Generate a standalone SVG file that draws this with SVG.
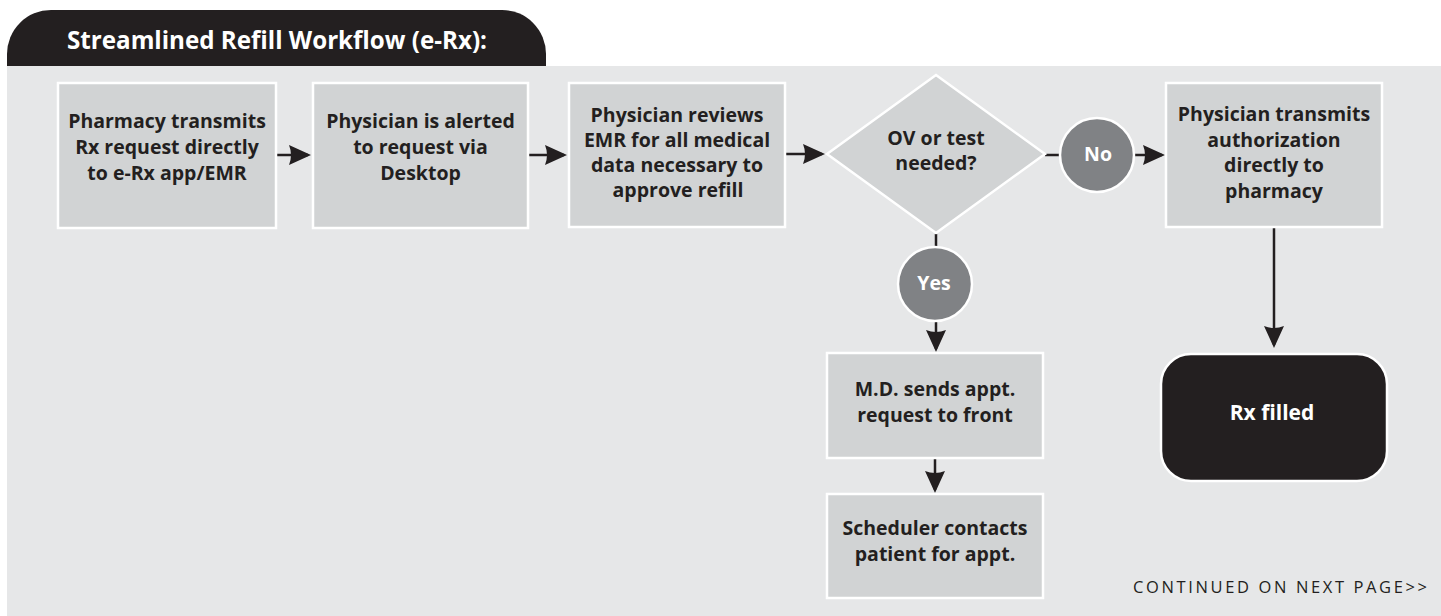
<svg xmlns="http://www.w3.org/2000/svg" width="1441" height="616" viewBox="0 0 1441 616">
<style>
.box{fill:#d1d3d4;stroke:#ffffff;stroke-width:2.5}
.circ{fill:#808285;stroke:#ffffff;stroke-width:2.5}
.t{font-family:"Open Sans","Liberation Sans",sans-serif;font-weight:bold;font-size:19.5px;fill:#231f20;text-anchor:middle}
.w{fill:#ffffff}
.ln{stroke:#231f20;stroke-width:2.5;fill:none}
</style>
<defs>
<marker id="arr" markerUnits="userSpaceOnUse" viewBox="0 0 22 20" refX="19" refY="10" markerWidth="22" markerHeight="20" orient="auto">
<path d="M0,0 L22,10 L0,20 Q4,10 0,0 Z" fill="#231f20"/>
</marker>
</defs>
<rect x="0" y="0" width="1441" height="616" fill="#ffffff"/>
<g id="header">
<path d="M7,66 L7,54 A44,44 0 0 1 51,10 L502,10 A44,44 0 0 1 546,54 L546,66 Z" fill="#231f20"/>
<rect x="7" y="66" width="1434" height="550" fill="#e6e7e8"/>
<text x="67" y="49" style="font-family:'Open Sans','Liberation Sans',sans-serif;font-weight:bold;font-size:25px;fill:#ffffff" textLength="420" lengthAdjust="spacingAndGlyphs">Streamlined Refill Workflow (e-Rx):</text>
</g>
<g id="connectors">
<line class="ln" x1="276" y1="155" x2="308" y2="155" marker-end="url(#arr)"/>
<line class="ln" x1="528" y1="155" x2="564" y2="155" marker-end="url(#arr)"/>
<line class="ln" x1="785" y1="154" x2="822" y2="154" marker-end="url(#arr)"/>
<line class="ln" x1="1045" y1="155" x2="1060" y2="155"/>
<line class="ln" x1="1135" y1="155" x2="1162" y2="155" marker-end="url(#arr)"/>
<line class="ln" x1="936" y1="234" x2="936" y2="247"/>
<line class="ln" x1="936" y1="322" x2="936" y2="349" marker-end="url(#arr)"/>
<line class="ln" x1="935" y1="459" x2="935" y2="490" marker-end="url(#arr)"/>
<line class="ln" x1="1274" y1="228" x2="1274" y2="345" marker-end="url(#arr)"/>
</g>
<g id="n1">
<rect class="box" x="58" y="83" width="218" height="145"/>
<text class="t" x="167" y="128">Pharmacy transmits</text>
<text class="t" x="167" y="154">Rx request directly</text>
<text class="t" x="167" y="180">to e-Rx app/EMR</text>
</g>
<g id="n2">
<rect class="box" x="313" y="83" width="215" height="145"/>
<text class="t" x="420.5" y="128">Physician is alerted</text>
<text class="t" x="420.5" y="154">to request via</text>
<text class="t" x="420.5" y="180">Desktop</text>
</g>
<g id="n3">
<rect class="box" x="569" y="83" width="216" height="144"/>
<text class="t" x="677" y="122">Physician reviews</text>
<text class="t" x="677" y="147">EMR for all medical</text>
<text class="t" x="677" y="172">data necessary to</text>
<text class="t" x="678" y="197">approve refill</text>
</g>
<g id="n4">
<polygon class="box" points="936,75 1045,154 936,233 827,154"/>
<text class="t" x="936" y="145">OV or test</text>
<text class="t" x="936" y="170">needed?</text>
</g>
<g id="no">
<circle class="circ" cx="1097" cy="155" r="37"/>
<text class="t w" x="1098" y="161">No</text>
</g>
<g id="yes">
<circle class="circ" cx="935" cy="284" r="37"/>
<text class="t w" x="934" y="290">Yes</text>
</g>
<g id="n5">
<rect class="box" x="1166" y="83" width="216" height="144"/>
<text class="t" x="1274" y="121">Physician transmits</text>
<text class="t" x="1274" y="146.5">authorization</text>
<text class="t" x="1274" y="172">directly to</text>
<text class="t" x="1274" y="197.5">pharmacy</text>
</g>
<g id="n6">
<rect class="box" x="827" y="353" width="216" height="105"/>
<text class="t" x="935" y="396">M.D. sends appt.</text>
<text class="t" x="935" y="422">request to front</text>
</g>
<g id="n7">
<rect class="box" x="827" y="494" width="216" height="104"/>
<text class="t" x="935" y="535">Scheduler contacts</text>
<text class="t" x="935" y="561">patient for appt.</text>
</g>
<g id="n8">
<rect x="1161" y="354" width="226" height="127" rx="30" ry="30" fill="#231f20" stroke="#ffffff" stroke-width="2.5"/>
<text class="t w" x="1272" y="420" style="font-size:21px">Rx filled</text>
</g>
<text x="1429" y="593" text-anchor="end" textLength="296" lengthAdjust="spacing" style="font-family:'Open Sans','Liberation Sans',sans-serif;font-size:16.5px;fill:#231f20;letter-spacing:2px">CONTINUED ON NEXT PAGE&gt;&gt;</text>
</svg>
